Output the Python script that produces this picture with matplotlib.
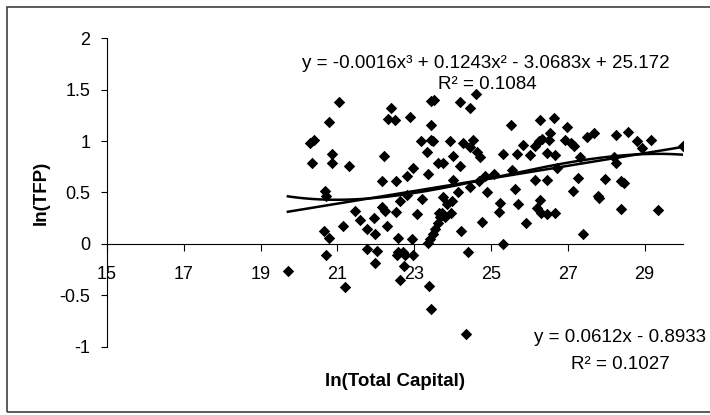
import matplotlib.pyplot as plt
from matplotlib.patches import Rectangle
import numpy as np

plt.rcParams['font.family'] = ['Liberation Sans', 'DejaVu Sans']

# data: ln(Total Capital) vs ln(TFP)
ln_capital = [
    19.71, 20.29, 20.39, 20.34, 20.77, 21.03, 20.85, 20.85, 21.30, 20.67,
    20.71, 20.65, 20.77, 21.15, 20.70, 21.20, 21.45, 21.59, 21.76, 21.95,
    21.99, 22.15, 22.24, 22.28, 22.53, 22.58, 21.78, 22.02, 21.99, 22.21,
    22.15, 22.52, 22.40, 22.32, 22.49, 22.59, 22.72, 22.54, 22.76, 22.98,
    22.73, 22.63, 22.63, 22.80, 22.89, 22.82, 22.98, 23.06, 23.20, 23.17,
    23.33, 23.37, 23.43, 23.45, 23.52, 23.44, 23.50, 22.93, 23.35, 23.42,
    23.49, 23.54, 23.61, 23.66, 23.65, 23.72, 23.80, 23.96, 23.85, 23.98,
    23.74, 23.63, 23.74, 23.93, 23.39, 23.43, 24.02, 24.02, 24.15, 24.19,
    24.19, 24.23, 24.26, 24.45, 24.52, 24.46, 24.61, 24.63, 24.71, 24.45,
    24.70, 24.76, 24.84, 24.90, 25.09, 24.35, 24.41, 25.22, 25.23, 25.30,
    25.30, 25.52, 25.55, 25.63, 25.67, 25.71, 25.83, 25.91, 26.02, 26.15,
    26.15, 26.19, 26.26, 26.32, 26.28, 26.28, 26.31, 26.47, 26.54, 26.47,
    26.45, 26.51, 26.64, 26.67, 26.67, 26.71, 26.93, 26.97, 27.07, 27.17,
    27.14, 27.27, 27.32, 27.39, 27.49, 27.69, 27.78, 27.81, 27.97, 28.20,
    28.26, 28.26, 28.38, 28.39, 28.47, 28.57, 28.79, 28.92, 29.17, 29.34,
    30.00,
]
ln_tfp = [
    -0.26, 0.98, 1.01, 0.79, 1.18, 1.38, 0.87, 0.79, 0.76, 0.51,
    0.47, 0.13, 0.06, 0.17, -0.11, -0.42, 0.32, 0.23, 0.15, 0.25,
    0.10, 0.36, 0.32, 0.17, 0.31, 0.06, -0.05, -0.07, -0.18, 0.85,
    0.61, 0.61, 1.32, 1.21, 1.20, -0.08, -0.08, -0.11, -0.11, -0.11,
    -0.21, -0.35, 0.42, 0.48, 1.23, 0.66, 0.74, 0.29, 0.44, 1.00,
    0.89, 0.68, 1.16, 1.39, 1.40, 1.01, 1.00, 0.05, 0.01, 0.05,
    0.10, 0.15, 0.20, 0.26, 0.30, 0.30, 0.26, 0.30, 0.39, 0.42,
    0.46, 0.79, 0.79, 1.00, -0.41, -0.63, 0.85, 0.62, 0.50, 1.38,
    0.76, 0.13, 0.98, 0.94, 1.01, 1.32, 1.46, 0.89, 0.84, 0.55,
    0.61, 0.21, 0.66, 0.50, 0.68, -0.87, -0.08, 0.31, 0.40, 0.87,
    0.00, 1.16, 0.72, 0.53, 0.87, 0.39, 0.96, 0.20, 0.86, 0.95,
    0.62, 0.35, 1.00, 1.02, 1.20, 0.43, 0.30, 0.29, 1.08, 0.88,
    0.62, 1.01, 1.22, 0.86, 0.30, 0.74, 1.01, 1.14, 0.98, 0.95,
    0.51, 0.64, 0.84, 0.10, 1.04, 1.08, 0.47, 0.45, 0.63, 0.84,
    0.79, 1.06, 0.34, 0.61, 0.59, 1.09, 1.00, 0.93, 1.01, 0.33,
    0.95,
]

cubic_x = [19.7, 20.6, 21.7, 23.2, 25.0, 27.0, 28.2, 30.0]
cubic_y = [0.47, 0.43, 0.42, 0.52, 0.65, 0.78, 0.85, 0.87]

# linear trend line coefficients shown on the chart
lin_coef = [0.0612, -0.8933]

x_ticks = [15, 17, 19, 21, 23, 25, 27, 29]
y_ticks = [-1, -0.5, 0, 0.5, 1, 1.5, 2]
y_tick_labels = ['-1', '-0.5', '0', '0.5', '1', '1.5', '2']

x = np.array(ln_capital)
y = np.array(ln_tfp)

fig = plt.figure(figsize=(7.1, 4.15), dpi=100)
ax = fig.add_axes([0.1507, 0.1639, 0.8113, 0.7445])

ax.scatter(x, y, marker='D', s=34, color='black', zorder=3, linewidths=0)

xx = np.linspace(x.min(), x.max(), 200)
cubic = np.polyfit(cubic_x, cubic_y, 3)
ax.plot(xx, np.polyval(cubic, xx), color='black', lw=1.8, zorder=4)
ax.plot(xx, np.polyval(lin_coef, xx), color='black', lw=1.8, zorder=4)

ax.set_xlim(15, 30)
ax.set_ylim(-1, 2)
ax.set_xticks(x_ticks)
ax.set_yticks(y_ticks)
ax.set_yticklabels(y_tick_labels)

ax.spines['top'].set_visible(False)
ax.spines['right'].set_visible(False)
ax.spines['bottom'].set_position(('data', 0))
for s in ['left', 'bottom']:
    ax.spines[s].set_color('black')
    ax.spines[s].set_linewidth(0.8)
ax.tick_params(axis='x', direction='out', length=5, width=0.8, pad=11, labelsize=13)
ax.tick_params(axis='y', direction='out', length=4, width=0.8, pad=8, labelsize=13)

ax.set_xlabel('ln(Total Capital)', fontsize=13.5, fontweight='bold', labelpad=0)
ax.xaxis.set_label_coords(0.5, -0.085)
ax.set_ylabel('ln(TFP)', fontsize=13.5, fontweight='bold')
ax.yaxis.set_label_coords(-0.1, 0.5)

ax.text(0.658, 0.919, 'y = -0.0016x³ + 0.1243x² - 3.0683x + 25.172',
        transform=ax.transAxes, ha='center', va='center', fontsize=13.5)
ax.text(0.66, 0.848, 'R² = 0.1084', transform=ax.transAxes,
        ha='center', va='center', fontsize=13.5)
ax.text(0.891, 0.032, 'y = 0.0612x - 0.8933', transform=ax.transAxes,
        ha='center', va='center', fontsize=13.5)
ax.text(0.892, -0.058, 'R² = 0.1027', transform=ax.transAxes,
        ha='center', va='center', fontsize=13.5, clip_on=False)

fig.patches.append(Rectangle((7 / 710, 3 / 415), 1.0, 405 / 415,
                             transform=fig.transFigure, fill=False,
                             edgecolor='#404040', lw=1.2))

fig.savefig('out.png', dpi=100)
